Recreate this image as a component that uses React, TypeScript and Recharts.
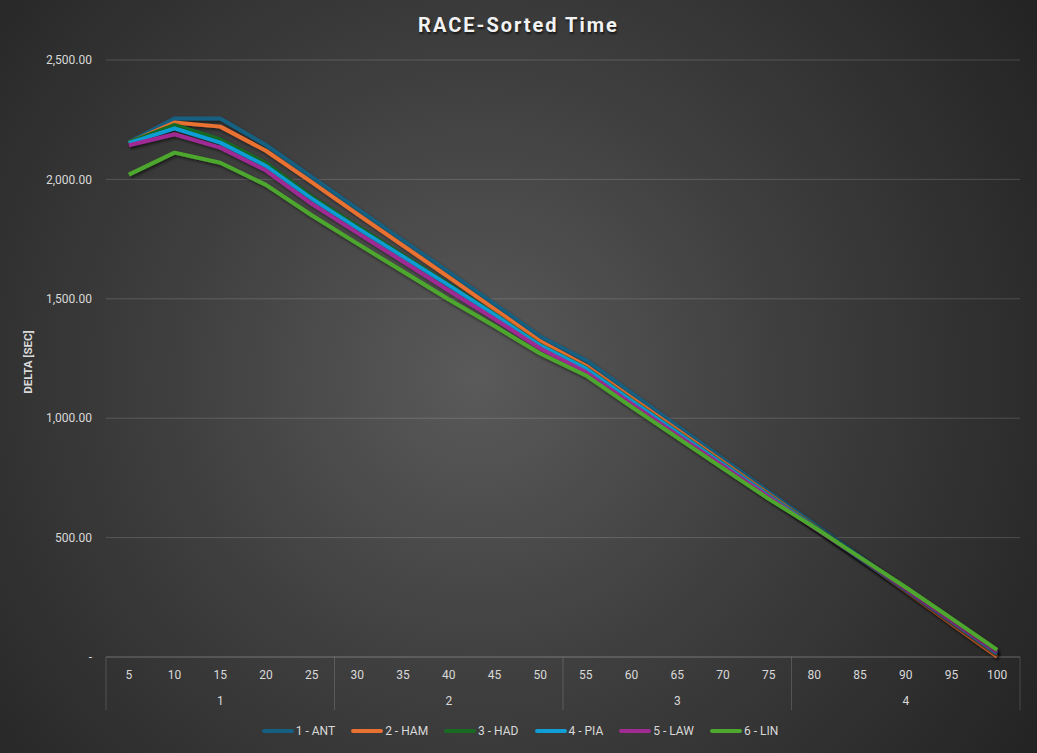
import { LineChart, Line, XAxis, YAxis, CartesianGrid, Legend } from 'recharts';

const LAPS = [5, 10, 15, 20, 25, 30, 35, 40, 45, 50, 55, 60, 65, 70, 75, 80, 85, 90, 95, 100];
const STINT = ['1', '1', '1', '1', '1', '2', '2', '2', '2', '2', '3', '3', '3', '3', '3', '4', '4', '4', '4', '4'];

// delta to leader, seconds
const ANT = [2155, 2255, 2255, 2144, 2010, 1876, 1744, 1612, 1478, 1342, 1243, 1105, 967, 830, 692, 556, 420, 284, 147, 10];
const HAM = [2153, 2238, 2221, 2120, 1989, 1855, 1723, 1591, 1457, 1322, 1220, 1085, 951, 817, 682, 548, 412, 276, 139, 2];
const HAD = [2155, 2228, 2167, 2068, 1928, 1804, 1682, 1560, 1436, 1306, 1210, 1075, 942, 810, 677, 546, 415, 284, 150, 15];
const PIA = [2152, 2214, 2154, 2056, 1919, 1796, 1676, 1556, 1433, 1304, 1208, 1073, 940, 808, 675, 544, 412, 281, 149, 15];
const LAW = [2143, 2189, 2133, 2037, 1898, 1776, 1656, 1535, 1416, 1292, 1193, 1060, 929, 800, 670, 541, 415, 284, 152, 20];
const LIN = [2020, 2112, 2070, 1977, 1850, 1731, 1614, 1497, 1386, 1271, 1179, 1047, 919, 790, 662, 543, 417, 292, 162, 30];

const Y_TICKS = [0, 500, 1000, 1500, 2000, 2500];

const SERIES = [
  { key: 'ANT', name: '1 - ANT', color: '#156082', values: ANT },
  { key: 'HAM', name: '2 - HAM', color: '#E97132', values: HAM },
  { key: 'HAD', name: '3 - HAD', color: '#196B24', values: HAD },
  { key: 'PIA', name: '4 - PIA', color: '#0F9ED5', values: PIA },
  { key: 'LAW', name: '5 - LAW', color: '#A02B93', values: LAW },
  { key: 'LIN', name: '6 - LIN', color: '#4EA72E', values: LIN },
];

const FONT = 'Roboto, sans-serif';
const TEXT = '#d9d9d9';
const RULE = 'rgba(255,255,255,0.16)';

const chartData = LAPS.map((lap, i) => {
  const row: Record<string, number> = { lap };
  SERIES.forEach((s) => {
    row[s.key] = s.values[i];
  });
  return row;
});

const fmtY = (v: number) =>
  v === 0 ? '-' : v.toLocaleString('en-US', { minimumFractionDigits: 2, maximumFractionDigits: 2 });

// two-level category axis: lap on top row, stint below, with separators between stints
function LapTick(props: any) {
  const { x, y, payload, index } = props;
  const half = payload && payload.offset > 0 ? payload.offset : 22.85;
  const isStart = index === 0 || STINT[index] !== STINT[index - 1];
  const isLast = index === LAPS.length - 1;
  let end = index;
  while (end + 1 < STINT.length && STINT[end + 1] === STINT[index]) end++;
  return (
    <g>
      <text x={x} y={y + 22} textAnchor="middle" fill={TEXT} fontSize={12} fontFamily={FONT}>
        {payload.value}
      </text>
      {isStart && (
        <>
          <line x1={x - half} x2={x - half} y1={y} y2={y + 53} stroke={RULE} />
          <text x={x + (end - index) * half} y={y + 48} textAnchor="middle" fill={TEXT} fontSize={12} fontFamily={FONT}>
            {STINT[index]}
          </text>
        </>
      )}
      {isLast && <line x1={x + half} x2={x + half} y1={y} y2={y + 53} stroke={RULE} />}
    </g>
  );
}

function LegendRow() {
  return (
    <div
      style={{
        display: 'flex',
        justifyContent: 'center',
        alignItems: 'center',
        gap: 16,
        height: 28,
        paddingLeft: 20,
        fontFamily: FONT,
        fontSize: 12,
        color: TEXT,
      }}
    >
      {SERIES.map((s) => (
        <div key={s.key} style={{ display: 'flex', alignItems: 'center' }}>
          <span style={{ display: 'inline-block', width: 32, height: 4, borderRadius: 2, background: s.color, marginRight: 2 }} />
          <span>{s.name}</span>
        </div>
      ))}
    </div>
  );
}

export default function App() {
  return (
    <div
      style={{
        position: 'absolute',
        left: 0,
        top: 0,
        width: 1037,
        height: 753,
        overflow: 'hidden',
        background: 'radial-gradient(circle at 46% 50%, #5a5a5a 0%, #3f3f3f 45%, #232323 100%)',
      }}
    >
      <style>{'.recharts-line-curve { filter: url(#lineShadow); }'}</style>
      <div
        style={{
          position: 'absolute',
          top: 13,
          left: 0,
          width: 1037,
          textAlign: 'center',
          fontFamily: 'Roboto, sans-serif',
          fontWeight: 700,
          fontSize: 20,
          letterSpacing: 2,
          color: '#f2f2f2',
          textShadow: '1px 2px 2px rgba(0,0,0,0.6)',
        }}
      >
        RACE-Sorted Time
      </div>
      <div
        style={{
          position: 'absolute',
          left: 28,
          top: 362,
          transform: 'translate(-50%, -50%) rotate(-90deg)',
          whiteSpace: 'nowrap',
          fontFamily: FONT,
          fontWeight: 700,
          fontSize: 11.5,
          color: TEXT,
        }}
      >
        DELTA [SEC]
      </div>
      <LineChart width={1037} height={753} data={chartData} margin={{ top: 60, right: 17, left: 0, bottom: 8 }}>
        <defs>
          <filter id="lineShadow" x="-10%" y="-10%" width="120%" height="120%">
            <feDropShadow dx="1.5" dy="2" stdDeviation="1.5" floodColor="#000" floodOpacity="0.55" />
          </filter>
        </defs>
        <CartesianGrid vertical={false} stroke={RULE} />
        <XAxis
          dataKey="lap"
          scale="band"
          interval={0}
          height={60}
          tickLine={false}
          tickSize={0}
          tickMargin={0}
          axisLine={{ stroke: RULE }}
          tick={<LapTick />}
        />
        <YAxis
          width={106}
          domain={[0, 2500]}
          ticks={Y_TICKS}
          tickFormatter={fmtY}
          axisLine={false}
          tickLine={false}
          tickSize={0}
          tickMargin={14}
          tick={{ fill: TEXT, fontSize: 12, fontFamily: FONT }}
        />
        <Legend verticalAlign="bottom" content={<LegendRow />} wrapperStyle={{ height: 28 }} />
        {SERIES.map((s) => (
          <Line
            key={s.key}
            dataKey={s.key}
            name={s.name}
            stroke={s.color}
            strokeWidth={4}
            strokeLinejoin="round"
            dot={false}
            activeDot={false}
            isAnimationActive={false}
          />
        ))}
      </LineChart>
    </div>
  );
}
